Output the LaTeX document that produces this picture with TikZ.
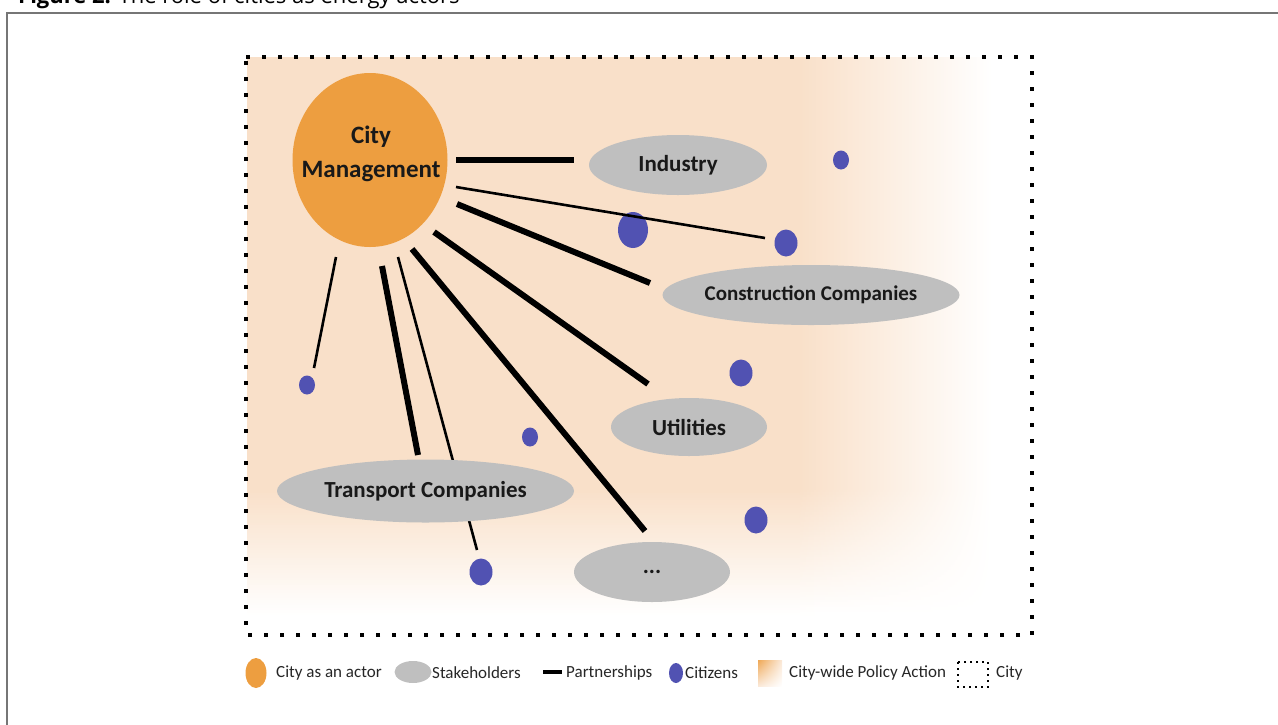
\documentclass[tikz,border=0pt]{standalone}
\usepackage{fontspec}
\setmainfont{Carlito}
\newfontfamily\titlefont{Open Sans}
\usetikzlibrary{shapes.geometric,shadings}

\definecolor{peach}{RGB}{249,224,201}
\definecolor{actor}{RGB}{237,158,64}
\definecolor{stake}{RGB}{191,191,191}
\definecolor{citizen}{RGB}{81,82,178}
\definecolor{framegray}{RGB}{118,118,118}

\begin{document}
\begin{tikzpicture}[x=1pt,y=-1pt,
  actornode/.style={ellipse, fill=actor, inner sep=0pt, outer sep=0pt},
  stakenode/.style={ellipse, fill=stake, inner sep=0pt, outer sep=0pt},
  stakelabel/.style={font=\bfseries\fontsize{23}{26}\selectfont, text=black!90},
  citizennode/.style={ellipse, fill=citizen, inner sep=0pt, outer sep=0pt},
  smallcit/.style={citizennode, minimum width=16pt, minimum height=19pt},
  midcit/.style={citizennode, minimum width=23pt, minimum height=27pt},
  bigcit/.style={citizennode, minimum width=30pt, minimum height=36pt},
  thicklink/.style={line width=6pt},
  thinlink/.style={line width=2.6pt},
  citydots/.style={line width=3.6pt, dash pattern=on 3.6pt off 12.4pt},
  legendtext/.style={anchor=west, inner sep=0pt, font=\fontsize{17}{20}\selectfont, text=black!85},
]
\useasboundingbox (0,0) rectangle (1278,724);
\clip (0,0) rectangle (1278,724);

% caption (runs off the top edge) and the frame around the figure
\node[anchor=base west, inner sep=0pt, font=\titlefont\fontsize{22}{24}\selectfont] (caption) at (18,3)
  {\textbf{Figure 2.} The role of cities as energy actors};
\draw[framegray, line width=1.5pt] (7,730) -- (7,13) -- (1285,13);

% city-wide policy action: peach area fading out to the right and to the bottom
\fill[peach] (247,57) rectangle (800,490.5);
\shade[left color=peach, right color=white] (799.5,57) rectangle (992,490.5);
\foreach \i in {0,...,49}{
  \pgfmathsetmacro\t{100*(1-(\i+0.5)/50)}
  \pgfmathsetmacro\ya{490+2.5*\i}
  \pgfmathsetmacro\yb{\ya+2.9}
  \fill[peach!\t!white] (247,\ya) rectangle (800,\yb);
  \shade[left color=peach!\t!white, right color=white] (799.5,\ya) rectangle (992,\yb);
}

% the city boundary
\draw[citydots] (246,57) -- (1032,57) -- (1032,635) -- (246,635) -- cycle;

% partnership end points
\coordinate (a1) at (456,160); \coordinate (b1) at (574,160);
\coordinate (a2) at (456,187); \coordinate (b2) at (765,238);
\coordinate (a3) at (457,204); \coordinate (b3) at (650,283);
\coordinate (a4) at (434,232); \coordinate (b4) at (648,384);
\coordinate (a5) at (412,249); \coordinate (b5) at (645,531);
\coordinate (a6) at (398,257); \coordinate (b6) at (477,550);
\coordinate (a7) at (382,266); \coordinate (b7) at (418,455);
\coordinate (a8) at (336,257); \coordinate (b8) at (314,368);

% citizens
\node[smallcit] (c1) at (841,160) {};
\node[bigcit]   (c2) at (633,230) {};
\node[midcit]   (c3) at (786,243) {};
\node[midcit]   (c4) at (741,373) {};
\node[smallcit] (c5) at (307,385) {};
\node[smallcit] (c6) at (530,437) {};
\node[midcit]   (c7) at (756,520) {};
\node[midcit]   (c8) at (481,572) {};

% partnerships
\draw[thicklink] (a1) -- (b1);
\draw[thinlink]  (a2) -- (b2);
\draw[thicklink] (a3) -- (b3);
\draw[thicklink] (a4) -- (b4);
\draw[thicklink] (a5) -- (b5);
\draw[thinlink]  (a6) -- (b6);
\draw[thicklink] (a7) -- (b7);
\draw[thinlink]  (a8) -- (b8);

% city management
\node[actornode, minimum width=155pt, minimum height=174pt] (city) at (370,160) {};
\node[align=center, inner sep=0pt, font=\bfseries\fontsize{25}{34}\selectfont, text=black!90] (citylabel) at (371,154) {City\\Management};

% stakeholders
\node[stakenode, minimum width=178pt, minimum height=60pt,
  label={[stakelabel]center:Industry}] (industry) at (678,165) {};
\node[stakenode, minimum width=297pt, minimum height=60pt,
  label={[stakelabel, font=\bfseries\fontsize{21}{24}\selectfont]center:Construction Companies}] (construction) at (811,295) {};
\node[stakenode, minimum width=156pt, minimum height=58pt,
  label={[stakelabel]center:Utilities}] (utilities) at (689,427) {};
\node[stakenode, minimum width=297pt, minimum height=63pt,
  label={[stakelabel]center:Transport Companies}] (transport) at (425.5,491) {};
\node[stakenode, minimum width=156pt, minimum height=60pt,
  label={[stakelabel]center:...}] (others) at (652,572) {};

% legend
\node[actornode, minimum width=21pt, minimum height=30pt] (lgactor) at (256,673) {};
\node[legendtext] (lgactortext) at (276,673) {City as an actor};
\node[stakenode, minimum width=37pt, minimum height=22pt] (lgstake) at (413,672) {};
\node[legendtext] (lgstaketext) at (432,673) {Stakeholders};
\coordinate (lgbara) at (543,672); \coordinate (lgbarb) at (562,672);
\draw[line width=4pt] (lgbara) -- (lgbarb);
\node[legendtext] (lgparttext) at (566,673) {Partnerships};
\node[citizennode, minimum width=14pt, minimum height=20pt] (lgcit) at (676,673) {};
\node[legendtext] (lgcittext) at (685,673) {Citizens};
\shade[upper left=actor!85!peach, upper right=peach!70!white, lower left=peach!70!white, lower right=white]
  (758,660) rectangle (782,686);
\node[legendtext] (lgpolicytext) at (789,673) {City-wide Policy Action};
\draw[line width=1.6pt, dash pattern=on 1.6pt off 4.4pt] (958,662) rectangle (988,687);
\node[legendtext] (lgcitytext) at (996,673) {City};
\end{tikzpicture}
\end{document}
